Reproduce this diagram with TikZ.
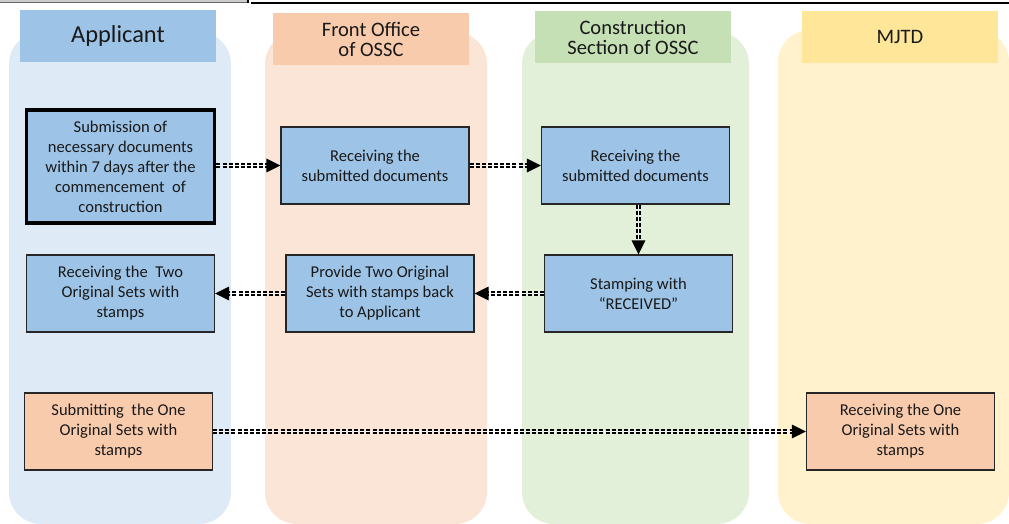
\documentclass[tikz,border=0pt]{standalone}
\usepackage{fontspec}
\setmainfont{Carlito}
\usetikzlibrary{arrows.meta}

\definecolor{headblue}{HTML}{9DC3E6}
\definecolor{laneblue}{HTML}{DEEBF7}
\definecolor{headorange}{HTML}{F8CBAD}
\definecolor{laneorange}{HTML}{FBE5D6}
\definecolor{headgreen}{HTML}{C5E0B4}
\definecolor{lanegreen}{HTML}{E2F0D9}
\definecolor{headyellow}{HTML}{FFE699}
\definecolor{laneyellow}{HTML}{FFF2CC}

\begin{document}
\begin{tikzpicture}[x=0.75pt,y=-0.75pt,
    lane/.style={rounded corners=24pt},
    header/.style={minimum width=147pt,minimum height=39pt,inner sep=0pt,align=center,text=black!90,font=\fontsize{15.4}{15}\selectfont},
    stepbox/.style={draw=black!85,line width=0.8pt,fill=headblue,minimum width=141pt,minimum height=57.75pt,inner sep=2pt,align=center,text=black!90,font=\fontsize{12.4}{15}\selectfont},
    flow/.style={double,double distance=0.7pt,line width=1.3pt,dash pattern=on 3pt off 1.6pt,-{Triangle[length=10.5pt,width=10pt]}}]
    \useasboundingbox (0,0) rectangle (1009,524);

    % top rule
    \fill[black!20] (0,0) rectangle (247,2.5);
    \draw[black!60,line width=0.5pt] (0,2.5) -- (247,2.5);
    \draw[black,line width=1.5pt] (248,0) -- (248,3.5);
    \draw[black,line width=1.5pt] (251,3) -- (1009,3);

    % lanes
    \fill[lane,laneblue] (9,32) rectangle (231,524);
    \fill[lane,laneorange] (265,32) rectangle (487,524);
    \fill[lane,lanegreen] (522,32) rectangle (749,524);
    \fill[lane,laneyellow] (778,30) rectangle (1009,524);

    % lane headers
    \node[header,fill=headblue,font=\fontsize{18.3}{20}\selectfont] (hApplicant) at (118,36) {Applicant};
    \node[header,fill=headorange] (hFront) at (371,39) {Front Office\\of OSSC};
    \node[header,fill=headgreen] (hConstr) at (633,37) {Construction\\Section of OSSC};
    \node[header,fill=headyellow] (hMJTD) at (900,37) {MJTD};

    % steps
    \node[stepbox,line width=2.8pt,draw=black,minimum height=84.75pt] (submit) at (120.5,166.5)
        {Submission of\\necessary documents\\within 7 days after the\\commencement \ of\\construction};
    \node[stepbox] (frontRecv) at (375,165.5) {Receiving the\\submitted documents};
    \node[stepbox] (constrRecv) at (635.5,165.5) {Receiving the\\submitted documents};
    \node[stepbox] (stamp) at (638.5,293.5) {Stamping with\\``RECEIVED''};
    \node[stepbox] (provide) at (380,293.5) {Provide Two Original\\Sets with stamps back\\to Applicant};
    \node[stepbox] (recvTwo) at (120.5,293.5) {Receiving the \ Two\\Original Sets with\\stamps};
    \node[stepbox,fill=headorange] (submitOne) at (118.5,431.5) {Submitting \ the One\\Original Sets with\\stamps};
    \node[stepbox,fill=headorange] (recvOne) at (900.5,431.5) {Receiving the One\\Original Sets with\\stamps};

    % flows
    \draw[flow] (submit.east |- frontRecv.west) -- (frontRecv.west);
    \draw[flow] (frontRecv.east) -- (constrRecv.west);
    \draw[flow] (constrRecv.south -| stamp.north) -- (stamp.north);
    \draw[flow] (stamp.west) -- (provide.east);
    \draw[flow] (provide.west) -- (recvTwo.east);
    \draw[flow] (submitOne.east) -- (recvOne.west);
\end{tikzpicture}
\end{document}
